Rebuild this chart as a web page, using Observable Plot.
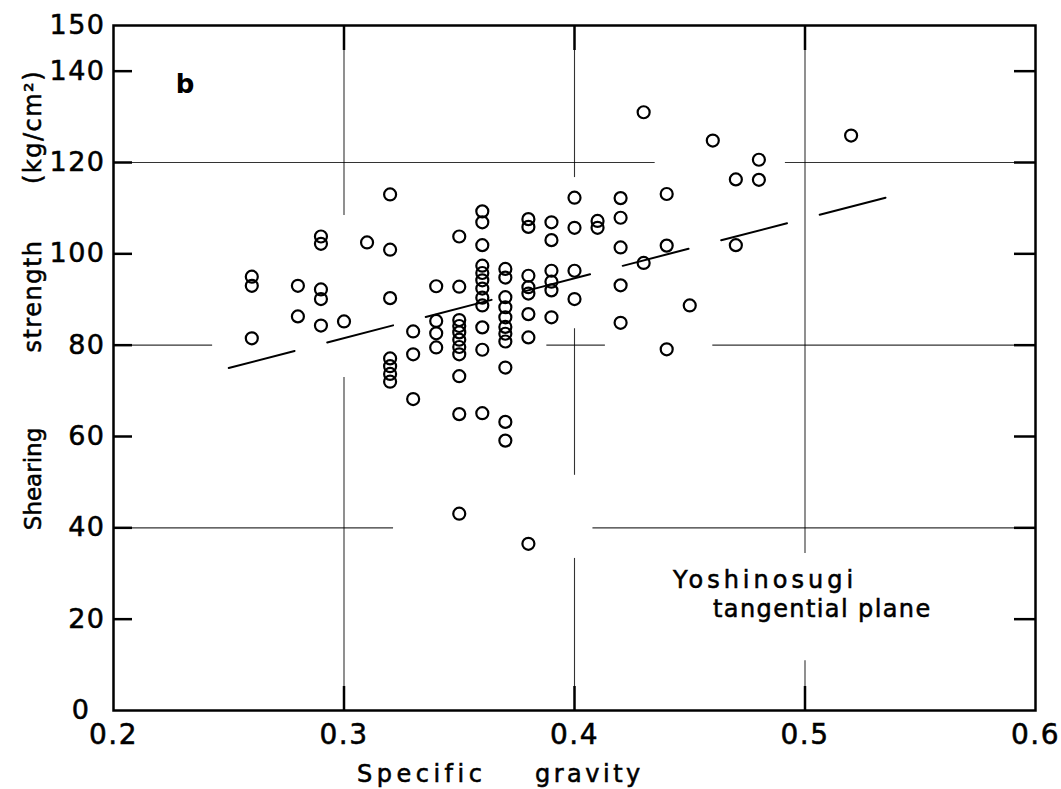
<!DOCTYPE html>
<html>
<head>
<meta charset="utf-8">
<script src="https://cdn.jsdelivr.net/npm/d3@7"></script>
<script src="https://cdn.jsdelivr.net/npm/@observablehq/plot@0.6"></script>
<style>
  html, body { margin: 0; padding: 0; background: #fff; }
  #chart { width: 1061px; height: 789px; }
  svg text.heavy { stroke: #000; stroke-width: 0.55px; paint-order: stroke; }
</style>
</head>
<body>
<div id="chart"></div>
<script>
// ---- data ----
// specific gravity columns and the shearing strength values (kg/cm²) at each
const gravity = [0.26, 0.28, 0.29, 0.30, 0.31, 0.32, 0.33, 0.34, 0.35, 0.36, 0.37, 0.38, 0.39, 0.40, 0.41, 0.42, 0.43, 0.44, 0.45, 0.46, 0.47, 0.48, 0.52];
const strength = [
  [95, 93, 81.5],
  [93, 86.3],
  [103.8, 102.2, 92.2, 90.1, 84.3],
  [85.2],
  [102.5],
  [113, 100.9, 90.3, 77.1, 75.4, 73.7, 72],
  [83, 78, 68.2],
  [92.9, 85.3, 82.6, 79.5],
  [103.8, 92.8, 85.5, 84.2, 82.8, 81.2, 79.6, 78, 73.2, 64.9, 43.1],
  [109.3, 106.9, 101.9, 97.4, 95.8, 94.2, 92.4, 90.4, 88.7, 83.9, 79, 65.1],
  [96.7, 94.8, 90.5, 88.3, 86.1, 84, 82.5, 80.8, 75.1, 63.2, 59.1],
  [107.6, 105.9, 95.2, 92.7, 91.3, 86.8, 81.7, 36.5],
  [106.9, 103, 96.3, 93.9, 92, 86.1],
  [112.3, 105.7, 96.3, 90.1],
  [107.2, 105.7],
  [112.2, 107.9, 101.4, 93.1, 84.9],
  [131, 98],
  [113.1, 101.8, 79.1],
  [88.7],
  [124.8],
  [116.3, 101.9],
  [120.6, 116.2],
  [125.9]
];
// regression line end points
const fitGravity = [0.25, 0.535];
const fitStrength = [75.0, 112.3];

// axes
const xDomain = [0.2, 0.6];
const yDomain = [0, 150];
const xTickLabels = [0.2, 0.3, 0.4, 0.5, 0.6];
const yTickLabels = [20, 40, 60, 80, 100, 120, 140, 150];
const yZeroLabel = [0];
const xTickMarks = [0.3, 0.4, 0.5];
const yTickMarks = [20, 40, 60, 80, 100, 120, 140];
// grid lines as drawn (broken where the drafting left gaps)
const gridH = [
  {y: 120, x1: 0.2, x2: 0.435}, {y: 120, x1: 0.4915, x2: 0.6},
  {y: 80, x1: 0.2, x2: 0.243}, {y: 80, x1: 0.388, x2: 0.4134}, {y: 80, x1: 0.46, x2: 0.6},
  {y: 40, x1: 0.2, x2: 0.3215}, {y: 40, x1: 0.408, x2: 0.6}
];
const gridV = [
  {x: 0.3, y1: 108.4, y2: 150}, {x: 0.3, y1: 0, y2: 72.9},
  {x: 0.4, y1: 116.7, y2: 150}, {x: 0.4, y1: 51.5, y2: 83.6}, {x: 0.4, y1: 0, y2: 33.3},
  {x: 0.5, y1: 34.4, y2: 150}, {x: 0.5, y1: 0, y2: 10.9}
];

// ---- build tables ----
const points = gravity.flatMap((g, i) => strength[i].map(s => ({g, s})));
const fit = fitGravity.map((g, i) => ({g, s: fitStrength[i]}));

const W = 1061, H = 789;
const mL = 113, mR = 26, mT = 25, mB = 79;
const fw = W - mL - mR, fh = H - mT - mB;
const font = "DejaVu Sans, sans-serif";

const plot = Plot.plot({
  width: W, height: H,
  marginLeft: mL, marginRight: mR, marginTop: mT, marginBottom: mB,
  style: {fontFamily: font, background: "#fff", color: "#000", overflow: "visible"},
  x: {domain: xDomain},
  y: {domain: yDomain},
  marks: [
    Plot.ruleY(gridH, {y: "y", x1: "x1", x2: "x2", stroke: "#000", strokeWidth: 1.1, strokeOpacity: 0.8}),
    Plot.ruleX(gridV, {x: "x", y1: "y1", y2: "y2", stroke: "#000", strokeWidth: 1.1, strokeOpacity: 0.8}),
    // inward tick marks
    Plot.tickY(yTickMarks, {y: d => d, insetRight: fw - 19, stroke: "#000", strokeWidth: 2.5}),
    Plot.tickY(yTickMarks, {y: d => d, insetLeft: fw - 21, stroke: "#000", strokeWidth: 2.5}),
    Plot.tickX(xTickMarks, {x: d => d, insetTop: fh - 24, stroke: "#000", strokeWidth: 2.5}),
    Plot.tickX(xTickMarks, {x: d => d, insetBottom: fh - 25, stroke: "#000", strokeWidth: 2.5}),
    // tick labels
    Plot.axisY({ticks: yTickLabels, anchor: "left", tickSize: 0, tickPadding: 8, fontSize: 27, label: null, tickFormat: d => String(d)}),
    Plot.axisY({ticks: yZeroLabel, anchor: "left", tickSize: 0, tickPadding: 23, fontSize: 27, label: null, tickFormat: d => String(d)}),
    Plot.axisX({ticks: xTickLabels, anchor: "bottom", tickSize: 0, tickPadding: 14, fontSize: 28, label: null, tickFormat: d => d.toFixed(1)}),
    Plot.frame({stroke: "#000", strokeWidth: 2.5}),
    Plot.line(fit, {x: "g", y: "s", stroke: "#000", strokeWidth: 2, strokeDasharray: "68,33.75"}),
    Plot.dot(points, {x: "g", y: "s", r: 6, stroke: "#000", strokeWidth: 2.2, fill: "none"})
  ]
});

const svg = d3.select(plot);
svg.selectAll("[aria-label$='tick label'] text")
  .classed("heavy", true)
  .style("letter-spacing", "1.5px");

function addText(txt, x, y, opts = {}) {
  const t = svg.append("text")
    .attr("class", opts.weight === "bold" ? null : "heavy")
    .attr("x", x).attr("y", y)
    .attr("font-family", font)
    .attr("font-size", opts.size || 24)
    .attr("font-weight", opts.weight || "normal")
    .attr("text-anchor", opts.anchor || "start")
    .attr("fill", "#000")
    .style("letter-spacing", (opts.spacing || 0) + "px")
    .text(txt);
  if (opts.rotate) t.attr("transform", `rotate(${opts.rotate},${x},${y})`);
  return t;
}

// x axis title
addText("Specific", 357, 782, {size: 24, spacing: 4.5});
addText("gravity", 535, 782, {size: 24, spacing: 3.5});
// y axis title (rotated)
addText("Shearing", 41, 479, {size: 23, spacing: 0, anchor: "middle", rotate: -90});
addText("strength", 41, 296, {size: 24, spacing: 1.5, anchor: "middle", rotate: -90});
addText("(kg/cm²)", 41, 127, {size: 24, spacing: 1.5, anchor: "middle", rotate: -90});
// panel letter
addText("b", 185, 93, {size: 26, weight: "bold", anchor: "middle"});
// annotation
addText("Yoshinosugi", 673, 588, {size: 24, spacing: 4});
addText("tangential plane", 713, 617, {size: 24, spacing: 1.4});

document.getElementById("chart").appendChild(plot);
</script>
</body>
</html>
